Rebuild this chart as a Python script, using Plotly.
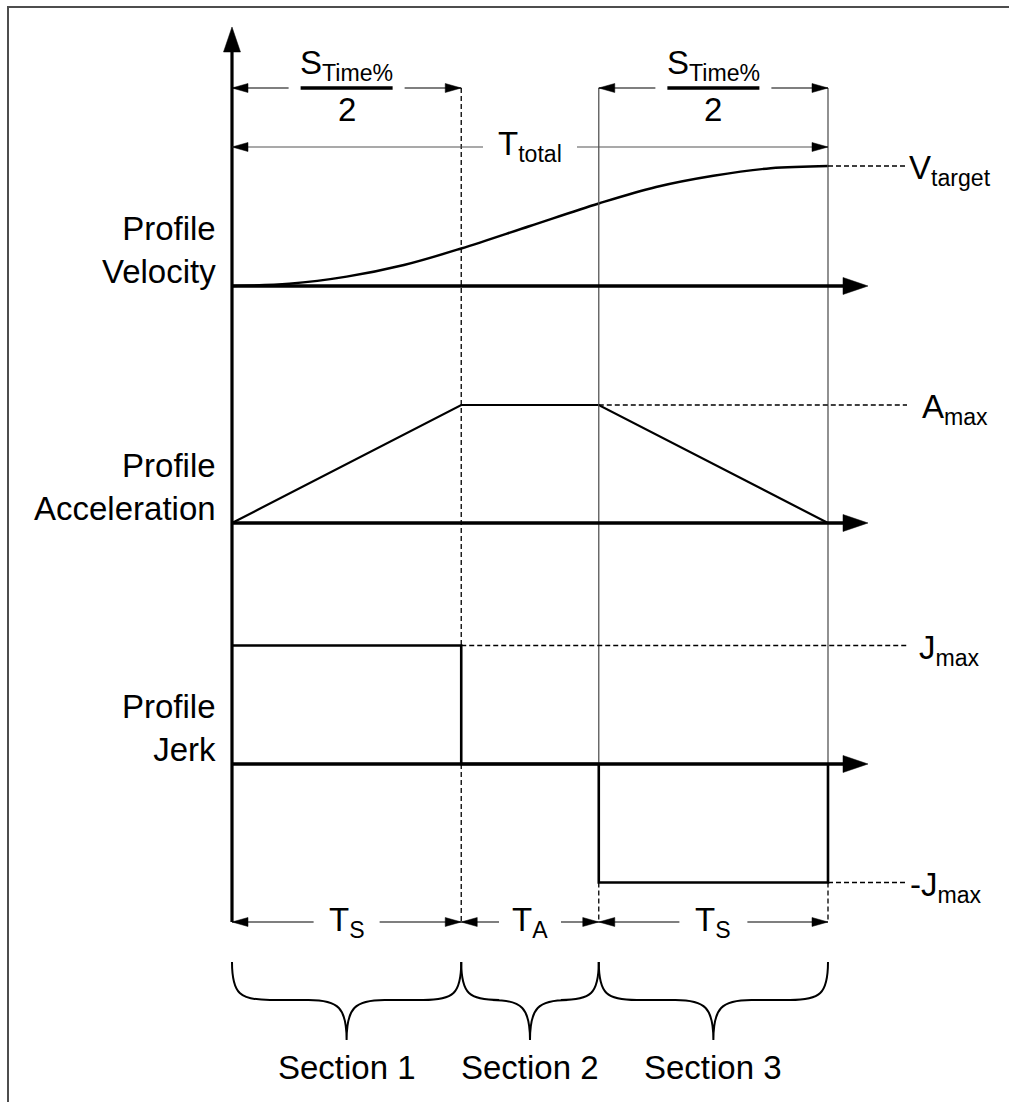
import plotly.graph_objects as go

# ---------------- data (time in units of T_S) ----------------
section_names = ["Section 1", "Section 2", "Section 3"]
section_time_labels = ["T<sub>S</sub>", "T<sub>A</sub>", "T<sub>S</sub>"]
section_durations = [1.0, 0.6, 1.0]          # T_S, T_A, T_S

J_MAX = 1.0
A_MAX = 1.0
V_TARGET = 1.6

vel_t = [0.0, 0.25, 0.5, 0.75, 1.0, 1.3, 1.6, 1.85, 2.1, 2.35, 2.6]
vel_v = [0.0, 0.03, 0.125, 0.28, 0.5, 0.8, 1.1, 1.32, 1.47, 1.57, 1.6]

acc_t = [0.0, 1.0, 1.6, 2.6]
acc_v = [0.0, 1.0, 1.0, 0.0]

jerk_t = [0.0, 1.0, 1.0, 1.6, 1.6, 2.6, 2.6]
jerk_v = [1.0, 1.0, 0.0, 0.0, -1.0, -1.0, 0.0]

profile_labels = ["Profile<br>Velocity", "Profile<br>Acceleration", "Profile<br>Jerk"]
level_labels = ["V<sub>target</sub>", "A<sub>max</sub>", "J<sub>max</sub>", "-J<sub>max</sub>"]
half_label = "S<sub>Time%</sub>"
total_label = "T<sub>total</sub>"

# ---------------- layout constants (pixels) ----------------
W, H = 1009, 1102
FONT = "Liberation Sans, Arial, sans-serif"
FS = 33
X0_PX, X1_PX = 232, 828
AXIS_TIP_PX = 868
LEVEL_END_PX = 907

t_edges = [0.0]
for d in section_durations:
    t_edges.append(t_edges[-1] + d)
T_END = t_edges[-1]
SX = (X1_PX - X0_PX) / T_END

# baseline pixel row and pixels per unit for each profile axis
panels = {"y": (286, 75.0), "y2": (523, 118.0), "y3": (764, 118.5)}


def x_px(t):
    return X0_PX + t * SX


def xd(px):
    return (px - X0_PX) / SX


def xp(px):
    return px / W


def yp(py):
    return 1 - py / H


def v_py(axis, v):
    base, scale = panels[axis]
    return base - v * scale


def yrange(axis):
    base, scale = panels[axis]
    return [(base - H) / scale, base / scale]


fig = go.Figure()
shapes = []
ann = []

BLACK = "#000000"
GREY = "#555555"
DASH = "5px,3px"


def seg(x0, y0, x1, y1, color=BLACK, width=1.2, dash=None):
    line = dict(color=color, width=width)
    if dash:
        line["dash"] = dash
    shapes.append(dict(type="line", xref="paper", yref="paper",
                       x0=xp(x0), y0=yp(y0), x1=xp(x1), y1=yp(y1), line=line))


def head(tx, ty, direction, length, half_w):
    # filled triangular arrowhead with its tip at (tx, ty)
    dx, dy = {"right": (-1, 0), "left": (1, 0), "up": (0, 1), "down": (0, -1)}[direction]
    bx, by = tx + dx * length, ty + dy * length
    px_, py_ = -dy, dx
    pts = [(tx, ty), (bx + px_ * half_w, by + py_ * half_w), (bx - px_ * half_w, by - py_ * half_w)]
    path = "M " + " L ".join(f"{xp(a):.5f},{yp(b):.5f}" for a, b in pts) + " Z"
    shapes.append(dict(type="path", xref="paper", yref="paper", path=path,
                       fillcolor=BLACK, line=dict(color=BLACK, width=0.5)))


def dim_arrow(xa, xb, y, gap_half, color=BLACK, width=1.2):
    xm = (xa + xb) / 2
    seg(xa, y, xm - gap_half, y, color, width)
    seg(xm + gap_half, y, xb, y, color, width)
    head(xa, y, "left", 16, 4.5)
    head(xb, y, "right", 16, 4.5)


def text(x, y, s, size=FS, xanchor="center", yanchor="middle", align="center"):
    ann.append(dict(x=xp(x), y=yp(y), xref="paper", yref="paper", text=s, showarrow=False,
                    xanchor=xanchor, yanchor=yanchor, align=align,
                    font=dict(family=FONT, size=size, color=BLACK)))


# ---------------- profile traces ----------------
fig.add_trace(go.Scatter(x=vel_t, y=vel_v, mode="lines", yaxis="y",
                         line=dict(color=BLACK, width=2.4, shape="spline", smoothing=1.0)))
fig.add_trace(go.Scatter(x=acc_t, y=acc_v, mode="lines", yaxis="y2",
                         line=dict(color=BLACK, width=2.2)))
fig.add_trace(go.Scatter(x=jerk_t, y=jerk_v, mode="lines", yaxis="y3",
                         line=dict(color=BLACK, width=2.6)))

px_edges = [x_px(t) for t in t_edges]
top_dim_y = 88
total_y = 147
bottom_dim_y = 922

# ---------------- guide lines ----------------
jmax_py = v_py("y3", J_MAX)
j0_py = v_py("y3", 0)
jmin_py = v_py("y3", -J_MAX)
seg(px_edges[1], top_dim_y, px_edges[1], jmax_py, dash=DASH, width=1.3)
seg(px_edges[1], j0_py, px_edges[1], bottom_dim_y, dash=DASH, width=1.3)
for e in px_edges[2:]:
    seg(e, top_dim_y, e, j0_py, color=GREY, width=1.3)
    seg(e, jmin_py, e, bottom_dim_y, dash=DASH, width=1.3)

# dashed level lines with labels
levels = [("y", V_TARGET, T_END, 907, level_labels[0]),
          ("y2", A_MAX, t_edges[2], 920, level_labels[1]),
          ("y3", J_MAX, t_edges[1], 917, level_labels[2]),
          ("y3", -J_MAX, T_END, 908, level_labels[3])]
for axis, val, t0, lab_x, lab in levels:
    shapes.append(dict(type="line", xref="x", yref=axis, x0=t0, x1=xd(LEVEL_END_PX),
                       y0=val, y1=val, line=dict(color=BLACK, width=1.3, dash=DASH)))
    text(lab_x, v_py(axis, val) + 4, lab, xanchor="left")

# ---------------- axes with arrowheads ----------------
seg(X0_PX, bottom_dim_y, X0_PX, 45, width=3.2)
head(X0_PX, 27, "up", 25, 8.5)
for axis, lab in zip(["y", "y2", "y3"], profile_labels):
    by = v_py(axis, 0)
    seg(X0_PX, by, AXIS_TIP_PX - 20, by, width=3.4)
    head(AXIS_TIP_PX, by, "right", 25, 8.5)
    text(218, by - 36, lab, xanchor="right", align="right")

# ---------------- dimension arrows ----------------
for i0, i1 in [(0, 1), (2, 3)]:
    xa, xb = px_edges[i0], px_edges[i1]
    xm = (xa + xb) / 2
    dim_arrow(xa, xb, top_dim_y, 58)
    seg(xm - 46, top_dim_y, xm + 46, top_dim_y, width=3.5)
    text(xm, 65, half_label)
    text(xm, 109, "2")

dim_arrow(px_edges[0], px_edges[3], total_y, 47, color=GREY, width=1.2)
text((px_edges[0] + px_edges[3]) / 2, 146, total_label)

gaps = [33, 31, 34]
for i, (lab, name) in enumerate(zip(section_time_labels, section_names)):
    xa, xb = px_edges[i], px_edges[i + 1]
    xm = (xa + xb) / 2
    dim_arrow(xa, xb, bottom_dim_y, gaps[i])
    text(xm, 922, lab)

    # curly brace under each section
    y_top, y_mid, y_tip = 962, 1000, 1040
    r = 38
    path = (f"M {xp(xa):.5f},{yp(y_top):.5f} "
            f"C {xp(xa):.5f},{yp(y_mid - 6):.5f} {xp(xa + 8):.5f},{yp(y_mid):.5f} {xp(xa + r):.5f},{yp(y_mid):.5f} "
            f"L {xp(xm - r):.5f},{yp(y_mid):.5f} "
            f"C {xp(xm - 8):.5f},{yp(y_mid):.5f} {xp(xm):.5f},{yp(y_mid + 8):.5f} {xp(xm):.5f},{yp(y_tip):.5f} "
            f"M {xp(xb):.5f},{yp(y_top):.5f} "
            f"C {xp(xb):.5f},{yp(y_mid - 6):.5f} {xp(xb - 8):.5f},{yp(y_mid):.5f} {xp(xb - r):.5f},{yp(y_mid):.5f} "
            f"L {xp(xm + r):.5f},{yp(y_mid):.5f} "
            f"C {xp(xm + 8):.5f},{yp(y_mid):.5f} {xp(xm):.5f},{yp(y_mid + 8):.5f} {xp(xm):.5f},{yp(y_tip):.5f}")
    shapes.append(dict(type="path", xref="paper", yref="paper", path=path,
                       line=dict(color=BLACK, width=2)))
    text(xm, 1067, name)

# outer frame
shapes.append(dict(type="rect", xref="paper", yref="paper",
                   x0=xp(8), y0=yp(1120), x1=xp(1030), y1=yp(7),
                   line=dict(color="#4d4d4d", width=2)))

hidden = dict(visible=False, fixedrange=True)
fig.update_layout(
    width=W, height=H, margin=dict(l=0, r=0, t=0, b=0),
    paper_bgcolor="white", plot_bgcolor="white", showlegend=False,
    xaxis=dict(range=[xd(0), xd(W)], **hidden),
    yaxis=dict(range=yrange("y"), **hidden),
    yaxis2=dict(range=yrange("y2"), overlaying="y", **hidden),
    yaxis3=dict(range=yrange("y3"), overlaying="y", **hidden),
    shapes=shapes, annotations=ann, hovermode=False,
)

fig.write_html("out.html")
